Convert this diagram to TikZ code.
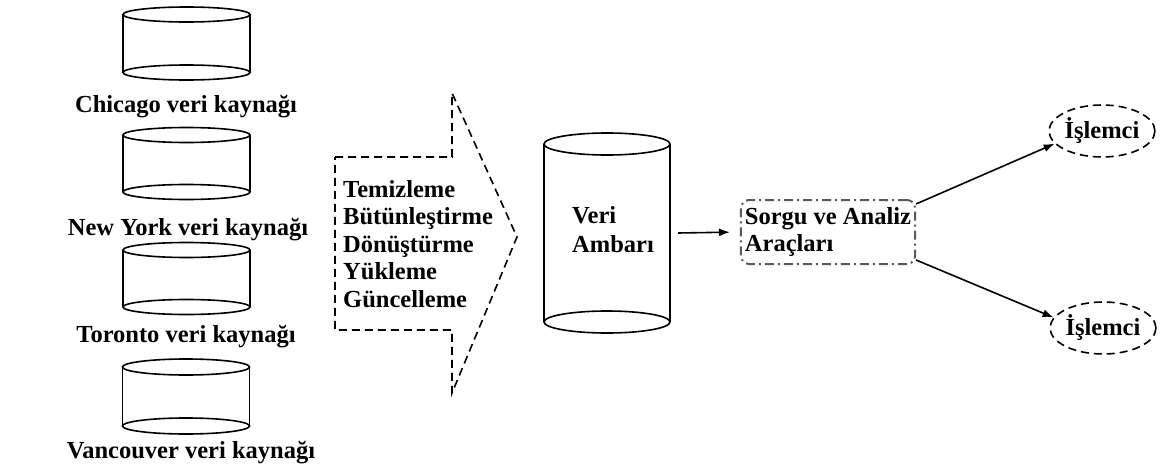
\documentclass[tikz,border=0pt]{standalone}
\usepackage{fontspec}
\setmainfont{Liberation Serif}
\usetikzlibrary{arrows.meta,shapes.geometric}

% database cylinder: name, centre x, top y, bottom y, x radius, y radius
\newcommand\dbcyl[6]{%
  \node[cylbody, minimum width=2*#5pt, minimum height=(#4-#3)*1pt]
    (#1) at (#2,{(#3+#4)/2}) {};
  \draw[cylline] (#1.north west) -- (#1.south west)
                 (#1.north east) -- (#1.south east);
  \draw[cylline] (#1.north) ellipse [x radius=#5pt, y radius=#6pt];
  \draw[cylline] (#1.south) ellipse [x radius=#5pt, y radius=#6pt];
}

\tikzset{
  cylbody/.style={draw=none, inner sep=0pt, outer sep=0pt},
  cylline/.style={line width=1.6pt, black},
  lbl/.style={font=\bfseries\fontsize{24.5}{27.5}\selectfont, inner sep=0pt},
  flow/.style={line width=1.6pt, dash pattern=on 8pt off 5pt},
  toolbox/.style={draw=black!65, line width=2pt, rounded corners=8pt,
    dash pattern=on 9pt off 4pt on 2pt off 4pt,
    font=\bfseries\fontsize{24.5}{27}\selectfont, align=left,
    inner xsep=4pt, inner ysep=3pt, minimum width=170pt, minimum height=64pt},
  proc/.style={ellipse, draw, flow, minimum width=101pt, minimum height=52pt,
    inner sep=0pt, font=\bfseries\fontsize{24.5}{27.5}\selectfont},
  arr/.style={line width=1.6pt, -{Latex[length=11pt,width=8pt]}},
}

\begin{document}
\begin{tikzpicture}[x=1pt, y=-1pt]
  \useasboundingbox (0,0) rectangle (1163,471);

  % source databases
  \dbcyl{chi}{186.5}{14.5}{72.5}{63.5}{7.5}
  \dbcyl{ny}{186.5}{135}{192}{63.5}{7.5}
  \dbcyl{tor}{186.5}{250}{307}{63.5}{7.5}
  \dbcyl{van}{186}{367}{426}{63.5}{8}

  \node[lbl, anchor=base] (chil) at (186,112) {Chicago veri kaynağı};
  \node[lbl, anchor=base] (nyl)  at (188,235) {New York veri kaynağı};
  \node[lbl, anchor=base] (torl) at (186,342) {Toronto veri kaynağı};
  \node[lbl, anchor=base] (vanl) at (191,458) {Vancouver veri kaynağı};

  % ETL block arrow
  \coordinate (etlA) at (335,157);
  \coordinate (etlB) at (452,157);
  \coordinate (etlC) at (452,93);
  \coordinate (etlTip) at (517,237);
  \coordinate (etlD) at (452,393);
  \coordinate (etlE) at (452,330);
  \coordinate (etlF) at (335,330);
  \draw[flow] (etlA) -- (etlB) -- (etlC) -- (etlTip) -- (etlD) -- (etlE)
              -- (etlF) -- cycle;
  % the base anchor of a multi-line node sits on its last line
  \node[lbl, anchor=base west, align=left] (etl) at (343,307)
    {Temizleme\\Bütünleştirme\\Dönüştürme\\Yükleme\\Güncelleme};

  % data warehouse
  \dbcyl{ambar}{607}{144}{322}{63}{11}
  \node[lbl, anchor=base west, align=left,
        font=\bfseries\fontsize{24.5}{29}\selectfont] (ambarl) at (572,252)
    {Veri\\Ambarı};

  % query and analysis tools
  \node[toolbox] (sorgu) at (828,232) {Sorgu ve Analiz\\Araçları};

  % processors
  \node[proc] (isl1) at (1102,131) {İşlemci};
  \node[proc] (isl2) at (1103,328) {İşlemci};

  % connectors
  \draw[arr, shorten >=10pt] ([xshift=8pt]ambar.east) -- (sorgu.west);
  \draw[arr] ([yshift=-5pt]sorgu.north east) -- (isl1.195);
  \draw[arr] ([yshift=5pt]sorgu.south east) -- (isl2.168);
\end{tikzpicture}
\end{document}
